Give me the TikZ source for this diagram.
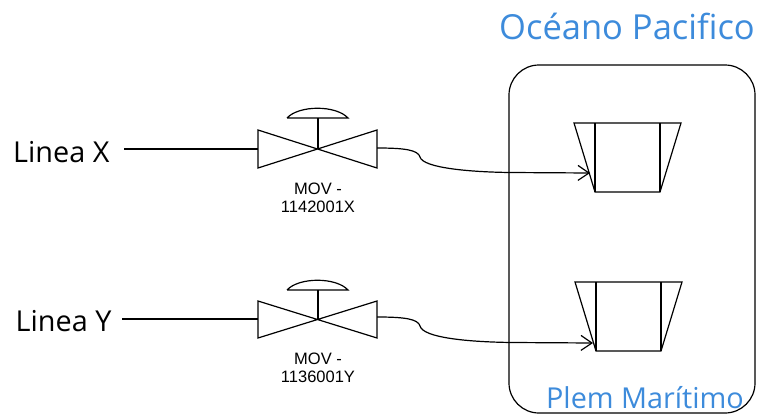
\documentclass[tikz,border=0pt]{standalone}
\usepackage{fontspec}
\setmainfont{Open Sans}
\newfontfamily\arialfont{Liberation Sans}
\usetikzlibrary{arrows.meta, calc}
\definecolor{seablue}{HTML}{3D8BDB}

\begin{document}
\begin{tikzpicture}[x=1pt, y=-1pt, line width=1.2pt, >={Straight Barb[length=11pt, width=15pt]},
	lbl/.style={inner sep=0pt, font=\fontsize{28.8}{30}\selectfont},
	tag/.style={inner sep=0pt, align=center, font=\arialfont\fontsize{16.5}{18}\selectfont},
	sea/.style={inner sep=0pt, text=seablue}]
		\useasboundingbox (0,0) rectangle (757,415);
		
		% zona del mar
		\draw[rounded corners=30pt] (509,65) rectangle (755,413);
		\node[sea, anchor=base, font=\fontsize{34.5}{36}\selectfont] (oceano) at (627,39) {Océano Pacifico};
		\node[sea, anchor=base, font=\fontsize{28.8}{30}\selectfont] (plem) at (645,408) {Plem Marítimo};
		
		% linea X
		\node[lbl, anchor=base east] (lineaX) at (110,162) {Linea X};
		\coordinate (vXin) at (258,149);
		\coordinate (vXc) at (318,149);
		\coordinate (vXout) at (377,148);
		\draw (258,130) -- (377,168) -- (377,130) -- (258,168) -- cycle;
		\draw (vXc) -- (318,118);
		\draw (287,118) -- (348,118) .. controls (336,105) and (299,105) .. (287,118);
		\node[tag, anchor=north] (movX) at (318,182) {MOV -\\1142001X};
		\draw (574,123) -- (681,123) -- (660,192) -- (595,192) -- cycle;
		\draw (595,123) -- (595,192) (660,123) -- (660,192);
		\coordinate (nzX) at (590,173);
		
		% linea Y
		\node[lbl, anchor=base east] (lineaY) at (112,331) {Linea Y};
		\coordinate (vYin) at (258,319);
		\coordinate (vYc) at (318,319);
		\coordinate (vYout) at (377,317);
		\draw (258,301) -- (377,338) -- (377,301) -- (258,338) -- cycle;
		\draw (vYc) -- (318,290);
		\draw (287,290) -- (348,290) .. controls (336,277) and (299,277) .. (287,290);
		\node[tag, anchor=north] (movY) at (318,352) {MOV -\\1136001Y};
		\draw (575,282) -- (682,282) -- (661,351) -- (596,351) -- cycle;
		\draw (596,282) -- (596,351) (661,282) -- (661,351);
		\coordinate (nzY) at (593,343);
		
		% conexiones
		\draw ($(lineaX.east |- vXin)+(14,0)$) -- (vXin);
		\draw ($(lineaY.east |- vYin)+(10,0)$) -- (vYin);
		\draw[->] (vXout) .. controls (405,148) and (418,150) .. (420,157)
			.. controls (423,168) and (470,172) .. (510,172.5) -- (nzX);
		\draw[->] (vYout) .. controls (405,317) and (418,319) .. (420,326)
			.. controls (423,338) and (470,342) .. (512,342.5) -- (nzY);
		
	\end{tikzpicture}
\end{document}
